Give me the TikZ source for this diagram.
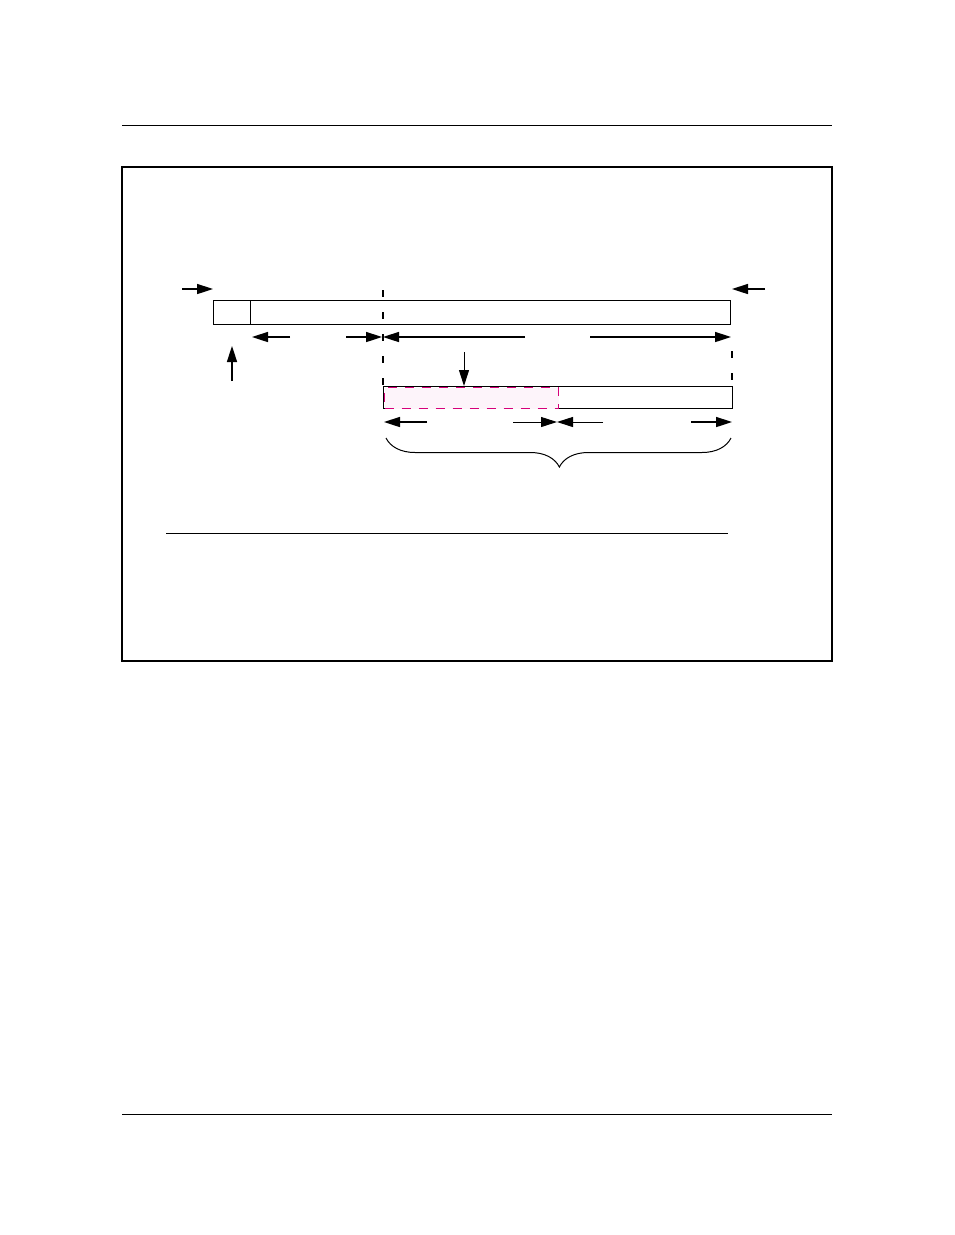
\documentclass[tikz,border=0pt]{standalone}
\usetikzlibrary{arrows.meta,decorations.pathreplacing}
\definecolor{magline}{HTML}{D6007A}
\definecolor{pinkfill}{HTML}{FDF4FA}
\begin{document}
\begin{tikzpicture}[x=1pt,y=-1pt,
  rule/.style={line width=1pt},
  bar/.style={draw,line width=1pt,rectangle,inner sep=0pt,anchor=north west},
  arr/.style={line width=1.6pt,-{Triangle[length=16pt,width=10pt]}},
  thinarr/.style={line width=1pt,-{Triangle[length=16pt,width=10pt]}},
  guide/.style={line width=1.6pt,dash pattern=on 7pt off 15pt},
  pinkbox/.style={draw=magline,fill=pinkfill,line width=1.2pt,dash pattern=on 9pt off 8pt,rectangle,inner sep=0pt,anchor=north west}]
\useasboundingbox (0,0) rectangle (954,1235);
% page rules and frame
\draw[rule] (122,125) coordinate (tl) -- (832,125) coordinate (tr);
\draw[rule] (122,1114) coordinate (bl) -- (832,1114) coordinate (br);
\draw[line width=1.6pt] (122,167) rectangle (832,661);
\draw[line width=1pt] (166,533) coordinate (sepL) -- (728,533) coordinate (sepR);
% top bar
\node[bar,minimum width=517pt,minimum height=24pt] (topbar) at (213,300) {};
\node[bar,minimum width=37pt,minimum height=24pt] (topcell) at (213,300) {};
% dashed guides
\coordinate (gA1) at (383,290); \coordinate (gA2) at (383,386);
\draw[guide] (gA1) -- (gA2);
\coordinate (gB1) at (732,351); \coordinate (gB2) at (732,386);
\draw[guide] (gB1) -- (gB2);
% lower bar
\node[bar,minimum width=349pt,minimum height=22pt] (lowbar) at (383,386) {};
\node[pinkbox,minimum width=174pt,minimum height=21pt] (pinkbar) at (384,387) {};
% arrows beside top bar
\coordinate (a1s) at (182,289); \coordinate (a1e) at (213,289);
\draw[arr] (a1s) -- (a1e);
\coordinate (a2s) at (765,289); \coordinate (a2e) at (732,289);
\draw[arr] (a2s) -- (a2e);
% arrows below top bar
\coordinate (b1s) at (290,337); \coordinate (b1e) at (252,337);
\draw[arr] (b1s) -- (b1e);
\coordinate (b2s) at (346,337); \coordinate (b2e) at (382,337);
\draw[arr] (b2s) -- (b2e);
\coordinate (b3s) at (525,337); \coordinate (b3e) at (383,337);
\draw[arr] (b3s) -- (b3e);
\coordinate (b4s) at (590,337); \coordinate (b4e) at (731,337);
\draw[arr] (b4s) -- (b4e);
% vertical arrows
\coordinate (c1s) at (232,381); \coordinate (c1e) at (232,346);
\draw[arr] (c1s) -- (c1e);
\coordinate (c2s) at (464,352); \coordinate (c2e) at (464,386);
\draw[thinarr] (c2s) -- (c2e);
% arrows below lower bar
\coordinate (d1s) at (427,422); \coordinate (d1e) at (384,422);
\draw[arr] (d1s) -- (d1e);
\coordinate (d2s) at (513,422); \coordinate (d2e) at (557,422);
\draw[thinarr] (d2s) -- (d2e);
\coordinate (d3s) at (603,422); \coordinate (d3e) at (557,422);
\draw[thinarr] (d3s) -- (d3e);
\coordinate (d4s) at (691,422); \coordinate (d4e) at (732,422);
\draw[arr] (d4s) -- (d4e);
% brace
\coordinate (brL) at (386,438); \coordinate (brR) at (731,438);
\draw[line width=1pt,decorate,decoration={brace,mirror,amplitude=29pt,aspect=0.5025}] (brL) -- (brR);
\end{tikzpicture}
\end{document}
